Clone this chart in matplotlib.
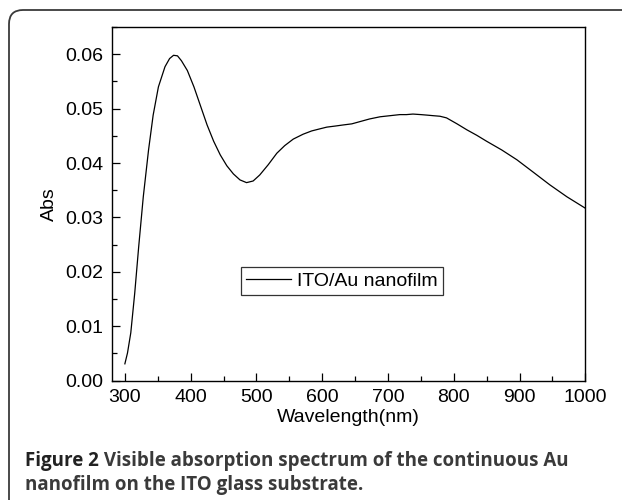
import numpy as np
import matplotlib
matplotlib.use("Agg")
import matplotlib.pyplot as plt
from matplotlib.patches import FancyBboxPatch
from matplotlib.transforms import IdentityTransform
from matplotlib.ticker import MultipleLocator

# absorption spectrum
wavelength = [300, 304, 309, 315, 321, 328, 336, 343, 351, 361, 368, 374, 380,
              386, 395, 405, 415, 425, 435, 445, 455, 465, 475, 485, 495, 505,
              518, 531, 543, 556, 571, 584, 597, 607, 620, 632, 645, 657, 672,
              688, 703, 718, 728, 738, 750, 760, 769, 779, 789, 805, 820, 835,
              850, 873, 896, 920, 946, 972, 1000]
absorb = [0.0031, 0.0051, 0.0088, 0.0161, 0.0246, 0.0338, 0.0424, 0.0488,
          0.0540, 0.0577, 0.0592, 0.0598, 0.0597, 0.0588, 0.0570, 0.0540,
          0.0505, 0.0470, 0.0440, 0.0415, 0.0395, 0.0380, 0.0369, 0.0364,
          0.0367, 0.0378, 0.0397, 0.0418, 0.0432, 0.0444, 0.0453, 0.0459,
          0.0463, 0.0466, 0.0468, 0.0470, 0.0472, 0.0476, 0.0481, 0.0485,
          0.0487, 0.0489, 0.0489, 0.0490, 0.0489, 0.0488, 0.0487, 0.0486,
          0.0483, 0.0472, 0.0461, 0.0451, 0.0440, 0.0424, 0.0406, 0.0384,
          0.0360, 0.0338, 0.0317]

caption_bold = "Figure 2"
caption_line1 = " Visible absorption spectrum of the continuous Au"
caption_line2 = "nanofilm on the ITO glass substrate."

plt.rcParams['font.family'] = ['Liberation Sans', 'DejaVu Sans']

fig = plt.figure(figsize=(6.22, 5), dpi=100)
ax = fig.add_axes([0.1796, 0.2386, 0.7614, 0.7074])

ax.plot(wavelength, absorb, color='black', lw=0.9, label='ITO/Au nanofilm')
ax.set_xlim(280, 1000)
ax.set_ylim(0, 0.065)
ax.xaxis.set_major_locator(MultipleLocator(100))
ax.xaxis.set_minor_locator(MultipleLocator(50))
ax.yaxis.set_major_locator(MultipleLocator(0.01))
ax.yaxis.set_minor_locator(MultipleLocator(0.005))
ax.yaxis.set_major_formatter(matplotlib.ticker.FormatStrFormatter('%.2f'))
ax.tick_params(which='both', direction='in', labelsize=14, width=0.9)
ax.tick_params(which='major', length=6, pad=6)
ax.tick_params(which='minor', length=3.5)
for s in ax.spines.values():
    s.set_linewidth(1.0)

ax.set_xlabel('Wavelength(nm)', fontsize=14, labelpad=2)
ax.set_ylabel('Abs', fontsize=14, labelpad=5)

leg = ax.legend(loc='center', bbox_to_anchor=(0.486, 0.282), fontsize=14,
                frameon=True, fancybox=False, handlelength=2.3,
                borderpad=0.25, handletextpad=0.35)
leg.get_frame().set_edgecolor('black')
leg.get_frame().set_linewidth(0.9)

# rounded panel border (cropped at right and bottom)
border = FancyBboxPatch((9, -40), 680, 530, boxstyle="round,pad=0,rounding_size=14",
                        transform=IdentityTransform(), fill=False,
                        edgecolor='#3a3a3a', lw=1.3)
fig.patches.append(border)

cap_font = ['Open Sans', 'DejaVu Sans']
t1 = fig.text(0.040, 0.068, caption_bold, fontsize=13.5, fontweight='bold',
              family=cap_font, color='#222222', va='baseline')
fig.canvas.draw()
bb = t1.get_window_extent()
x2 = bb.x1 / fig.bbox.width
fig.text(x2, 0.068, caption_line1, fontsize=13.5, fontweight='bold',
         family=cap_font, color='#3a3a3a', va='baseline')
fig.text(0.040, 0.020, caption_line2, fontsize=13.5, fontweight='bold',
         family=cap_font, color='#3a3a3a', va='baseline')

fig.savefig('out.png', dpi=100)
